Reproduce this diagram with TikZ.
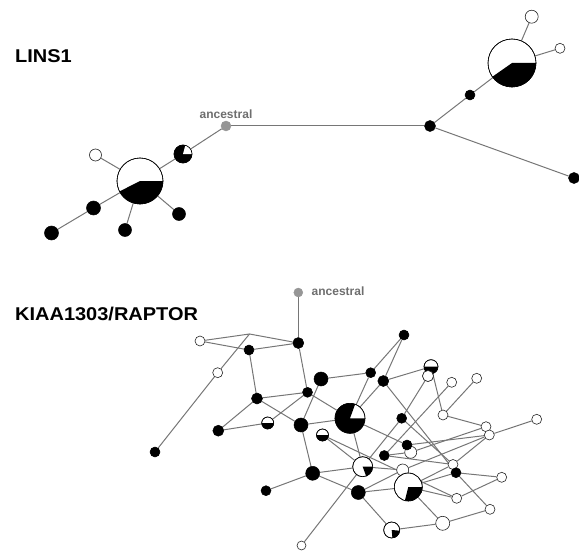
\documentclass[tikz,border=0pt]{standalone}
\usepackage{fontspec}
\setmainfont{Liberation Sans}
\usetikzlibrary{backgrounds}
\definecolor{linegray}{RGB}{118,118,118}
\definecolor{ancgray}{RGB}{150,150,150}
\definecolor{labgray}{RGB}{110,110,110}
\newcommand{\blacksector}[4]{%
  \fill[black] (#1.center) -- ++(#2:#4pt) arc[start angle=#2, end angle=#3, radius=#4pt] -- cycle;
  \draw[black, line width=0.6pt] (#1.center) circle[radius=#4pt];}
\begin{document}
\begin{tikzpicture}[x=1pt,y=1pt,
  bn/.style={circle, fill=black, draw=black, line width=0.5pt, inner sep=0pt, minimum size=#1},
  wn/.style={circle, fill=white, draw=black!85, line width=0.6pt, inner sep=0pt, minimum size=#1},
  an/.style={circle, fill=ancgray, draw=ancgray, inner sep=0pt, minimum size=#1},
  edge/.style={draw=linegray, line width=1pt},
  title/.style={anchor=west, inner sep=0pt, font=\bfseries\fontsize{18.5}{20}\selectfont},
  anclabel/.style={inner sep=0pt, text=labgray, font=\bfseries\fontsize{12}{13}\selectfont}]
\useasboundingbox (0,0) rectangle (579,-551);

% ---------------- LINS1 ----------------
\node[title] (t1) at (15,-56.5) {\scalebox{1.08}[1]{LINS1}};
\node[an=10pt] (anc1) at (226,-126) {};
\node[anclabel] (anc1lab) at (226,-114) {ancestral};
\node[bn=11pt] (j1) at (430,-126) {};
\node[bn=10pt] (bt5) at (470,-95) {};
\node[wn=48pt] (ptop) at (512,-63) {};
\node[wn=13pt] (wt2) at (531.7,-16.7) {};
\node[wn=10pt] (wt3) at (560,-48.3) {};
\node[bn=11pt] (bt6) at (574,-178) {};
\node[bn=18pt] (pl1) at (183,-154) {};
\node[wn=46pt] (pl2) at (140,-181) {};
\node[wn=12pt] (wt1) at (95.5,-155) {};
\node[bn=14pt] (bt1) at (93.5,-208) {};
\node[bn=14pt] (bt2) at (51.5,-233) {};
\node[bn=13pt] (bt3) at (125,-230) {};
\node[bn=13pt] (bt4) at (179,-214) {};

\fill[white] (pl1.center) -- ++(0:9pt) arc[start angle=0, end angle=75, radius=9pt] -- cycle;
\draw[black, line width=0.6pt] (pl1.center) circle[radius=9pt];
\blacksector{ptop}{215}{360}{24}
\blacksector{pl2}{207}{360}{23}

\begin{pgfonlayer}{background}
\draw[edge] (anc1) -- (j1);
\draw[edge] (anc1) -- (pl1);
\draw[edge] (pl1) -- (pl2);
\draw[edge] (pl2) -- (wt1);
\draw[edge] (pl2) -- (bt1);
\draw[edge] (bt1) -- (bt2);
\draw[edge] (pl2) -- (bt3);
\draw[edge] (pl2) -- (bt4);
\draw[edge] (j1) -- (bt5);
\draw[edge] (bt5) -- (ptop);
\draw[edge] (ptop) -- (wt2);
\draw[edge] (ptop) -- (wt3);
\draw[edge] (j1) -- (bt6);
\end{pgfonlayer}

% ---------------- KIAA1303/RAPTOR ----------------
\node[title] (t2) at (15,-313.8) {\scalebox{1.08}[1]{KIAA1303/RAPTOR}};
\node[an=9pt] (anc2) at (298.3,-292.5) {};
\node[anclabel, anchor=west] (anc2lab) at (311.5,-291.5) {ancestral};
\coordinate (kink) at (249.5,-334);

\node[bn=11pt] (A1) at (298.3,-343) {};
\node[wn=10pt] (W1) at (200,-341) {};
\node[wn=10pt] (W2) at (217.7,-372.7) {};
\node[bn=10pt] (L1) at (155,-452) {};
\node[bn=10pt] (B1) at (249,-350) {};
\node[bn=11pt] (B2) at (257,-398.5) {};
\node[bn=10pt] (B3) at (307.5,-392.3) {};
\node[bn=14pt] (B4) at (321,-379) {};
\node[bn=10pt] (B5) at (370.7,-372.7) {};
\node[bn=10pt] (B9) at (404,-335) {};
\node[bn=11pt] (B8) at (383.3,-381) {};
\node[wn=14pt] (H2) at (431,-366.7) {};
\node[wn=11pt] (W6) at (428,-376) {};
\node[wn=10pt] (W4) at (451.7,-382.3) {};
\node[wn=10pt] (W5) at (476.7,-378.3) {};
\node[bn=11pt] (L2) at (218.3,-430.7) {};
\node[wn=12pt] (H1) at (267.7,-423) {};
\node[bn=14pt] (B6) at (301,-425) {};
\node[wn=30pt] (P1) at (350,-418.3) {};
\node[bn=10pt] (B10) at (401.7,-418.3) {};
\node[wn=10pt] (W10) at (443,-415) {};
\node[wn=10pt] (W11) at (486,-426.7) {};
\node[wn=10pt] (W12) at (489.3,-435) {};
\node[wn=10pt] (W13) at (536.7,-419.3) {};
\node[wn=12pt] (H3) at (322.5,-435) {};
\node[wn=12pt] (W7) at (410.7,-452.3) {};
\node[bn=10pt] (B11) at (407,-445) {};
\node[bn=10pt] (B12) at (384.3,-455.5) {};
\node[wn=10pt] (W9) at (453,-464.5) {};
\node[bn=10pt] (B13) at (456,-472.7) {};
\node[wn=20pt] (P2) at (362.7,-466.7) {};
\node[bn=14pt] (B7) at (312.7,-473.3) {};
\node[wn=12pt] (W8) at (402.7,-470) {};
\node[wn=28pt] (P3) at (408.3,-487) {};
\node[wn=10pt] (W14) at (501.7,-477.3) {};
\node[bn=14pt] (B14) at (358.3,-492.5) {};
\node[bn=10pt] (L3) at (266,-490.7) {};
\node[wn=10pt] (W15) at (456.7,-498.3) {};
\node[wn=10pt] (W16) at (490,-509.3) {};
\node[wn=14pt] (W17) at (442.7,-523.3) {};
\node[wn=16pt] (P4) at (391.7,-530) {};
\node[wn=9pt] (W3) at (301.5,-545.5) {};

\fill[black] (P1.center) -- ++(70:15pt) arc[start angle=70, end angle=360, radius=15pt] -- cycle;
\draw[black, line width=0.6pt] (P1.center) circle[radius=15pt];
\blacksector{P2}{-70}{0}{10}
\blacksector{P3}{-104}{0}{14}
\blacksector{P4}{-85}{-5}{8}
\blacksector{H1}{180}{360}{6}
\blacksector{H2}{180}{360}{7}
\blacksector{H3}{180}{360}{6}
\node[wn=11pt] (W6b) at (W6) {};

\begin{pgfonlayer}{background}
\draw[edge] (anc2) -- (A1);
\draw[edge] (W1) -- (kink) -- (A1);
\draw[edge] (kink) -- (W2) -- (L1);
\draw[edge] (W1) -- (B1);
\draw[edge] (B1) -- (A1);
\draw[edge] (B1) -- (B2);
\draw[edge] (A1) -- (B3);
\draw[edge] (B2) -- (B3);
\draw[edge] (B2) -- (L2);
\draw[edge] (B2) -- (B6);
\draw[edge] (L2) -- (H1);
\draw[edge] (H1) -- (B3);
\draw[edge] (B3) -- (P1);
\draw[edge] (B4) -- (B6);
\draw[edge] (B4) -- (B5);
\draw[edge] (B5) -- (B9);
\draw[edge] (B9) -- (B8);
\draw[edge] (B5) -- (P1);
\draw[edge] (B8) -- (P1);
\draw[edge] (B8) -- (H2);
\draw[edge] (B8) -- (B13);
\draw[edge] (B6) -- (P1);
\draw[edge] (B6) -- (B7);
\draw[edge] (B7) -- (L3);
\draw[edge] (B7) -- (P2);
\draw[edge] (B7) -- (B14);
\draw[edge] (P1) -- (P2);
\draw[edge] (P1) -- (B11);
\draw[edge] (H3) -- (P2);
\draw[edge] (H3) -- (W15);
\draw[edge] (W3) -- (P2);
\draw[edge] (P2) -- (B10);
\draw[edge] (B10) -- (W6);
\draw[edge] (B10) -- (W9);
\draw[edge] (W4) -- (B12);
\draw[edge] (B12) -- (W7);
\draw[edge] (B12) -- (W9);
\draw[edge] (W5) -- (W10);
\draw[edge] (H2) -- (W10);
\draw[edge] (W10) -- (W11);
\draw[edge] (W12) -- (W13);
\draw[edge] (B11) -- (W12);
\draw[edge] (W7) -- (W11);
\draw[edge] (W8) -- (P2);
\draw[edge] (B14) -- (W8);
\draw[edge] (W8) -- (W12);
\draw[edge] (B14) -- (P3);
\draw[edge] (B14) -- (P4);
\draw[edge] (P4) -- (W17);
\draw[edge] (W17) -- (P3);
\draw[edge] (W17) -- (W16);
\draw[edge] (W16) -- (B13);
\draw[edge] (B13) -- (W14);
\draw[edge] (W14) -- (W15);
\draw[edge] (W15) -- (P3);
\draw[edge] (P3) -- (W9);
\draw[edge] (P3) -- (B13);
\draw[edge] (W9) -- (W12);
\end{pgfonlayer}
\end{tikzpicture}
\end{document}
